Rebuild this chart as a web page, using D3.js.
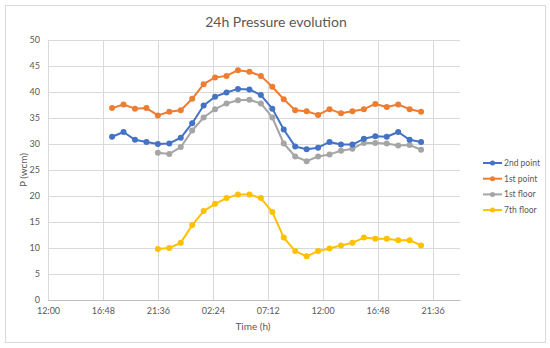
<!DOCTYPE html>
<meta charset="utf-8">
<style>
  body { margin: 0; background: #fff; }
  text { font-family: Lato, "Liberation Sans", sans-serif; fill: #595959; }
</style>
<body>
<div id="chart"></div>
<script src="https://d3js.org/d3.v7.min.js"></script>
<script>

// readings every hour, starting 17:36 on day one
var times = ["17:36","18:36","19:36","20:36","21:36","22:36","23:36","00:36","01:36","02:36",
             "03:36","04:36","05:36","06:36","07:36","08:36","09:36","10:36","11:36","12:36",
             "13:36","14:36","15:36","16:36","17:36","18:36","19:36","20:36"];

var secondPoint = [31.4,32.3,30.8,30.4,30.0,30.1,31.2,34.0,37.4,39.1,39.9,40.6,40.5,39.4,
                   36.8,32.8,29.5,29.0,29.3,30.4,29.9,29.9,31.0,31.5,31.4,32.3,30.8,30.4];
var firstPoint  = [36.9,37.6,36.8,36.9,35.5,36.2,36.5,38.7,41.5,42.8,43.1,44.2,43.9,43.1,
                   41.0,38.6,36.5,36.3,35.6,36.7,35.9,36.3,36.7,37.7,37.1,37.6,36.7,36.2];
var firstFloor  = [null,null,null,null,28.3,28.1,29.4,32.6,35.1,36.7,37.8,38.4,38.5,37.8,
                   35.1,30.1,27.6,26.7,27.6,28.0,28.7,29.1,30.2,30.2,30.1,29.7,29.8,28.9];
var seventhFloor= [null,null,null,null,9.8,10.0,11.0,14.4,17.1,18.5,19.6,20.3,20.3,19.6,
                   16.9,12.0,9.4,8.4,9.4,9.9,10.5,11.0,12.0,11.8,11.8,11.5,11.5,10.5];

var seriesNames  = ["2nd point", "1st point", "1st floor", "7th floor"];
var seriesColors = ["#4472C4", "#ED7D31", "#A5A5A5", "#FFC000"];

var xTickLabels = ["12:00","16:48","21:36","02:24","07:12","12:00","16:48","21:36"];
var yTicks = [0,5,10,15,20,25,30,35,40,45,50];

// times as fraction of days (day 0 starts at midnight before the first reading)
var tDays = [];
var day = 0, prev = -1;
times.forEach(function(t) {
  var p = t.split(":"), h = +p[0] + p[1] / 60;
  if (h < prev) day++;
  prev = h;
  tDays.push(day + h / 24);
});

var W = 550, H = 348;
var margin = {top: 40, right: 90, bottom: 48, left: 48},
    width = 460 - margin.left,
    height = 300 - margin.top;

var svg = d3.select("#chart").append("svg")
  .attr("width", W).attr("height", H);

svg.append("rect")
  .attr("x", 5.5).attr("y", 5.5)
  .attr("width", 540).attr("height", 337)
  .attr("fill", "#fff").attr("stroke", "#D9D9D9");

svg.append("text")
  .attr("x", 276).attr("y", 27)
  .attr("text-anchor", "middle")
  .style("font-size", "14px")
  .text("24h Pressure evolution");

var g = svg.append("g")
  .attr("transform", "translate(" + margin.left + "," + margin.top + ")");

var x = d3.scaleLinear().domain([0.5, 2.0]).range([0, width]);
var y = d3.scaleLinear().domain([0, 50]).range([height, 0]);

var xTickVals = xTickLabels.map(function(d, i) { return 0.5 + i * 0.2; });

// gridlines
g.append("g").selectAll("line").data(yTicks).join("line")
  .attr("x1", 0).attr("x2", width)
  .attr("y1", function(d) { return Math.round(y(d)) + 0.5; })
  .attr("y2", function(d) { return Math.round(y(d)) + 0.5; })
  .attr("stroke", "#D9D9D9");
g.append("g").selectAll("line").data(xTickVals).join("line")
  .attr("y1", 0).attr("y2", height)
  .attr("x1", function(d) { return Math.round(x(d)) + 0.5; })
  .attr("x2", function(d) { return Math.round(x(d)) + 0.5; })
  .attr("stroke", "#D9D9D9");

// axes
var yAxis = g.append("g")
  .call(d3.axisLeft(y).tickValues(yTicks).tickSize(0).tickPadding(8));
yAxis.select(".domain").remove();
yAxis.selectAll("text").style("font-size", "9px").attr("fill", "#595959");

var xAxis = g.append("g")
  .attr("transform", "translate(0," + height + ")")
  .call(d3.axisBottom(x).tickValues(xTickVals).tickSize(0).tickPadding(8)
    .tickFormat(function(d, i) { return xTickLabels[i]; }));
xAxis.select(".domain").attr("stroke", "#BFBFBF");
xAxis.selectAll("text").style("font-size", "9px").attr("fill", "#595959");

svg.append("text")
  .attr("x", 253).attr("y", 330)
  .attr("text-anchor", "middle")
  .style("font-size", "10px")
  .text("Time (h)");

svg.append("text")
  .attr("transform", "translate(27,170) rotate(-90)")
  .attr("text-anchor", "middle")
  .style("font-size", "10px")
  .text("P (wcm)");

// series
var allSeries = [secondPoint, firstPoint, firstFloor, seventhFloor];
var line = d3.line()
  .defined(function(d) { return d != null; })
  .x(function(d, i) { return x(tDays[i]); })
  .y(function(d) { return y(d); });

// draw bottom-most series first so 2nd point ends up on top
[3, 2, 1, 0].forEach(function(k) {
  var vals = allSeries[k];
  g.append("path")
    .attr("d", line(vals))
    .attr("fill", "none")
    .attr("stroke", seriesColors[k])
    .attr("stroke-width", 2)
    .attr("stroke-linejoin", "round");
  g.append("g").selectAll("circle")
    .data(vals.map(function(v, i) { return {v: v, i: i}; }).filter(function(d) { return d.v != null; }))
    .join("circle")
    .attr("cx", function(d) { return x(tDays[d.i]); })
    .attr("cy", function(d) { return y(d.v); })
    .attr("r", 3)
    .attr("fill", seriesColors[k]);
});

// legend
var legend = svg.append("g").attr("transform", "translate(483,163)");
seriesNames.forEach(function(name, k) {
  var row = legend.append("g").attr("transform", "translate(0," + k * 15.7 + ")");
  row.append("line").attr("x1", 0).attr("x2", 19)
    .attr("stroke", seriesColors[k]).attr("stroke-width", 2);
  row.append("circle").attr("cx", 9.5).attr("r", 2.5).attr("fill", seriesColors[k]);
  row.append("text").attr("x", 21).attr("dy", "0.35em")
    .style("font-size", "8.5px").text(name);
});

</script>
</body>
